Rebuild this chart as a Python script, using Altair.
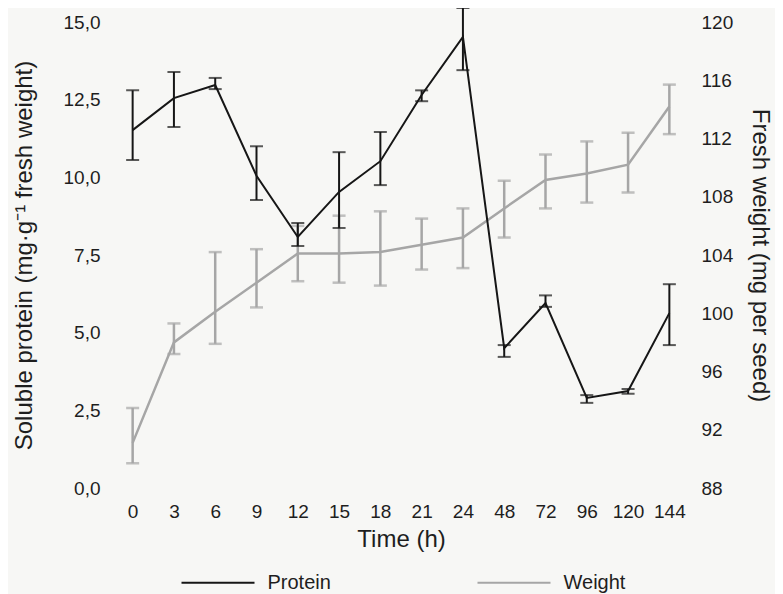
import altair as alt
import pandas as pd

times = [0, 3, 6, 9, 12, 15, 18, 21, 24, 48, 72, 96, 120, 144]
protein = [11.52, 12.55, 12.97, 10.05, 8.08, 9.53, 10.52, 12.65, 14.52, 4.50, 5.95, 2.90, 3.12, 5.63]
protein_lo = [10.56, 11.62, 12.84, 9.27, 7.79, 8.37, 9.75, 12.45, 13.45, 4.22, 5.83, 2.74, 3.03, 4.60]
protein_hi = [12.80, 13.39, 13.20, 11.00, 8.53, 10.81, 11.46, 12.80, 15.45, 4.60, 6.20, 2.99, 3.19, 6.56]
weight = [91.1, 98.0, 100.1, 102.1, 104.1, 104.1, 104.2, 104.7, 105.2, 107.2, 109.15, 109.6, 110.2, 114.2]
weight_lo = [89.7, 97.2, 97.9, 100.4, 102.2, 102.1, 101.9, 103.0, 103.1, 105.2, 107.2, 107.6, 108.3, 112.3]
weight_hi = [93.5, 99.3, 104.2, 104.4, 106.0, 106.7, 107.0, 106.5, 107.2, 109.1, 110.9, 111.8, 112.4, 115.7]

FONT = "Liberation Sans"
GRAY = "#a6a6a6"
BLACK = "#161616"
TXT = "#1e1e1e"

pdf = pd.DataFrame({"t": times, "v": protein, "lo": protein_lo, "hi": protein_hi, "series": "Protein"})
wdf = pd.DataFrame({"t": times, "v": weight, "lo": weight_lo, "hi": weight_hi, "series": "Weight"})

xenc = alt.X("t:O", sort=times, scale=alt.Scale(type="point", padding=0.5),
             axis=alt.Axis(title="Time (h)", labelAngle=0, ticks=False, domain=False,
                           labelPadding=14, titlePadding=6, labelFontSize=19, titleFontSize=24,
                           labelFont=FONT, titleFont=FONT, labelColor=TXT, titleColor=TXT,
                           titleFontWeight="normal"))

color = alt.Color("series:N", scale=alt.Scale(domain=["Protein", "Weight"], range=[BLACK, GRAY]),
                  legend=alt.Legend(title=None, orient="none", legendX=68.5, legendY=523,
                                    direction="horizontal", symbolType="stroke", symbolSize=5329,
                                    symbolStrokeWidth=2, labelFontSize=20, labelFont=FONT,
                                    labelColor=TXT, columnPadding=142, labelOffset=12, padding=0))

left_axis = alt.Axis(title="Soluble protein (mg·g⁻¹ fresh weight)", values=[0, 2.5, 5, 7.5, 10, 12.5, 15],
                     labelExpr="replace(format(datum.value, '.1f'), '.', ',')",
                     ticks=False, domain=False, grid=False, labelPadding=12, titlePadding=27,
                     labelFontSize=19, titleFontSize=24, labelFont=FONT, titleFont=FONT,
                     labelColor=TXT, titleColor=TXT, titleFontWeight="normal")
right_axis = alt.Axis(title="Fresh weight (mg per seed)", orient="right", values=list(range(88, 121, 4)),
                      ticks=False, domain=False, grid=False, labelPadding=11, titlePadding=15,
                      labelFontSize=19, titleFontSize=24, labelFont=FONT, titleFont=FONT,
                      labelColor=TXT, titleColor=TXT, titleFontWeight="normal")

yl = alt.Scale(domain=[0, 15], nice=False, zero=False)
yr = alt.Scale(domain=[88, 120], nice=False, zero=False)

pb = alt.Chart(pdf)
p_line = pb.mark_line(strokeWidth=2).encode(x=xenc, y=alt.Y("v:Q", scale=yl, axis=left_axis), color=color)
p_rule = pb.mark_rule(strokeWidth=2, color=BLACK).encode(x=xenc, y=alt.Y("lo:Q", scale=yl), y2="hi:Q")
p_cap1 = pb.mark_tick(size=13, thickness=2, color=BLACK).encode(x=xenc, y=alt.Y("lo:Q", scale=yl))
p_cap2 = pb.mark_tick(size=13, thickness=2, color=BLACK).encode(x=xenc, y=alt.Y("hi:Q", scale=yl))
prot = alt.layer(p_line, p_rule, p_cap1, p_cap2)

wb = alt.Chart(wdf)
w_line = wb.mark_line(strokeWidth=2.5).encode(x=xenc, y=alt.Y("v:Q", scale=yr, axis=right_axis), color=color)
w_rule = wb.mark_rule(strokeWidth=2.5, color=GRAY).encode(x=xenc, y=alt.Y("lo:Q", scale=yr), y2="hi:Q")
w_cap1 = wb.mark_tick(size=13, thickness=2.5, color=GRAY).encode(x=xenc, y=alt.Y("lo:Q", scale=yr))
w_cap2 = wb.mark_tick(size=13, thickness=2.5, color=GRAY).encode(x=xenc, y=alt.Y("hi:Q", scale=yr))
wgt = alt.layer(w_line, w_rule, w_cap1, w_cap2)

chart = alt.layer(wgt, prot).resolve_scale(y="independent").properties(
    width=578, height=466, background="#f7f7f5",
    autosize=alt.AutoSizeParams(type="none"),
    padding={"left": 104, "top": 14, "right": 85, "bottom": 106},
).configure_view(stroke=None)

chart.save("out.html", embed_options={"renderer": "svg", "actions": False})
